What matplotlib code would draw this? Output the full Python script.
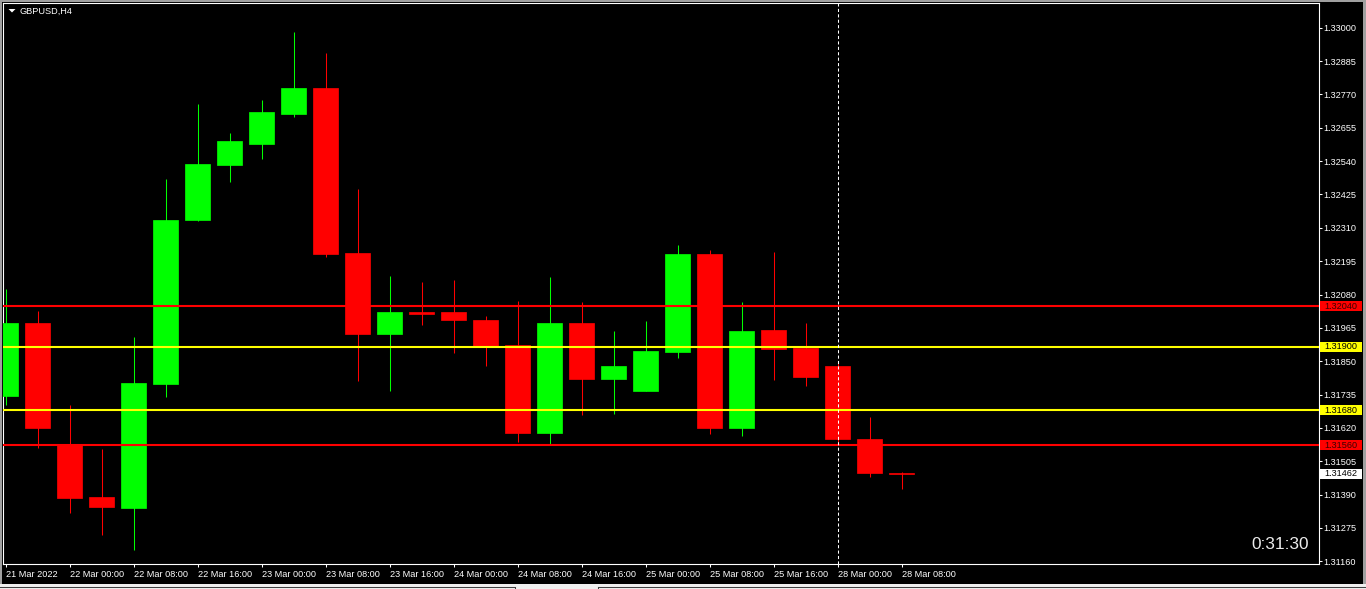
import matplotlib
matplotlib.use('Agg')
import matplotlib.pyplot as plt
from matplotlib.patches import Rectangle, Polygon
from matplotlib.lines import Line2D
from matplotlib.transforms import Affine2D

# ---------------- data ----------------
symbol = "GBPUSD,H4"
timer_text = "0:31:30"

opens = [1.31730, 1.31981, 1.31560, 1.31381, 1.31344, 1.31771, 1.32337, 1.32527,
         1.32600, 1.32703, 1.32794, 1.32222, 1.31944, 1.32019, 1.32019, 1.31991,
         1.31905, 1.31603, 1.31981, 1.31789, 1.31746, 1.31881, 1.32218, 1.31619,
         1.31959, 1.31894, 1.31835, 1.31580, 1.31466]
highs = [1.32098, 1.32022, 1.31698, 1.31546, 1.31935, 1.32477, 1.32736, 1.32636,
         1.32750, 1.32985, 1.32912, 1.32443, 1.32143, 1.32122, 1.32129, 1.32006,
         1.32057, 1.32140, 1.32053, 1.31953, 1.31988, 1.32250, 1.32232, 1.32053,
         1.32225, 1.31980, 1.31842, 1.31659, 1.31469]
lows = [1.31699, 1.31549, 1.31326, 1.31251, 1.31199, 1.31726, 1.32333, 1.32469,
        1.32547, 1.32692, 1.32210, 1.31782, 1.31748, 1.31975, 1.31877, 1.31832,
        1.31571, 1.31562, 1.31665, 1.31668, 1.31746, 1.31860, 1.31598, 1.31591,
        1.31784, 1.31764, 1.31561, 1.31450, 1.31408]
closes = [1.31981, 1.31618, 1.31378, 1.31347, 1.31774, 1.32336, 1.32530, 1.32609,
          1.32709, 1.32794, 1.32221, 1.31944, 1.32019, 1.32013, 1.31991, 1.31902,
          1.31603, 1.31981, 1.31789, 1.31832, 1.31884, 1.32218, 1.31619, 1.31953,
          1.31892, 1.31795, 1.31581, 1.31463, 1.31462]

time_tick_bars = [0, 2, 4, 6, 8, 10, 12, 14, 16, 18, 20, 22, 24, 26, 28]
time_labels = ["21 Mar 2022", "22 Mar 00:00", "22 Mar 08:00", "22 Mar 16:00",
               "23 Mar 00:00", "23 Mar 08:00", "23 Mar 16:00", "24 Mar 00:00",
               "24 Mar 08:00", "24 Mar 16:00", "25 Mar 00:00", "25 Mar 08:00",
               "25 Mar 16:00", "28 Mar 00:00", "28 Mar 08:00"]

price_ticks = [1.31160, 1.31275, 1.31390, 1.31505, 1.31620, 1.31735, 1.31850,
               1.31965, 1.32080, 1.32195, 1.32310, 1.32425, 1.32540, 1.32655,
               1.32770, 1.32885, 1.33000]

levels = [1.32040, 1.31900, 1.31680, 1.31560]
level_colors = ["#ff0000", "#ffff00", "#ffff00", "#ff0000"]
level_text_colors = ["#3a0000", "#000000", "#000000", "#3a0000"]
current_price = 1.31462
vline_bar = 26

# ---------------- layout ----------------
W, H = 1366, 589
fig = plt.figure(figsize=(W / 100, H / 100), dpi=100, facecolor="black")
L, R, T, B = 3.0, 1318.5, 3.0, 564.0
ax = fig.add_axes([L / W, 1 - B / H, (R - L) / W, (B - T) / H])
ax.set_facecolor("black")

bar_px = 32.0
x0_px = 5.5
y_top = 1.330855
y_bot = 1.311504
ax.set_xlim((L - x0_px) / bar_px, (R - x0_px) / bar_px)
ax.set_ylim(y_bot, y_top)

FONT = "Liberation Sans"
FS = 6.6

pix = Affine2D().scale(1.0 / W, -1.0 / H).translate(0, 1) + fig.transFigure


def ypix(p):
    return T + (y_top - p) / (y_top - y_bot) * (B - T)


# ---------------- candles ----------------
n = len(opens)
xs = list(range(n))
bull, bear = "#00ff00", "#ff0000"
cols = [bull if c >= o else bear for o, c in zip(opens, closes)]
ax.vlines(xs, lows, highs, colors=cols, linewidth=0.75, zorder=2)
body_bottom = [min(o, c) for o, c in zip(opens, closes)]
body_h = [abs(c - o) for o, c in zip(opens, closes)]
ax.bar(xs, body_h, bottom=body_bottom, width=25 / bar_px, color=cols,
       edgecolor=cols, linewidth=0.5, zorder=3)

# level lines
for lv, lc in zip(levels, level_colors):
    ax.axhline(lv, color=lc, linewidth=1.5, zorder=4)

# vertical dashed line
ax.axvline(vline_bar, color="white", linewidth=0.75, linestyle=(0, (3, 2.2)),
           zorder=5)

# ---------------- axes styling ----------------
for s in ax.spines.values():
    s.set_color("white")
    s.set_linewidth(0.8)

ax.yaxis.tick_right()
ax.set_yticks(price_ticks)
ax.set_yticklabels([f"{p:.5f}" for p in price_ticks], fontfamily=FONT)
ax.tick_params(axis="y", colors="white", labelcolor="white", length=2.3,
               width=0.75, pad=1.5, labelsize=FS, direction="out")

ax.set_xticks(time_tick_bars)
ax.set_xticklabels(time_labels, fontfamily=FONT, ha="left")
ax.tick_params(axis="x", colors="white", labelcolor="white", length=2.5,
               width=0.75, pad=2.0, labelsize=FS, direction="out")

# ---------------- price labels on the right ----------------
def price_box(p, fc, tc):
    yc = ypix(p)
    fig.patches.append(Rectangle((1319.5, yc - 5.0), 42.5, 10.0, transform=pix,
                                 facecolor=fc, edgecolor="none", zorder=10))
    fig.text(1340.8, yc + 0.3, f"{p:.5f}", transform=pix, ha="center",
             va="center", fontsize=FS, color=tc, fontfamily=FONT, zorder=11)


for lv, lc, tc in zip(levels, level_colors, level_text_colors):
    price_box(lv, lc, tc)
price_box(current_price, "#ffffff", "#000000")

# ---------------- title & timer ----------------
fig.patches.append(Polygon([(8.5, 9.0), (15.5, 9.0), (12.0, 12.5)], closed=True,
                           transform=pix, facecolor="white", edgecolor="none"))
fig.text(20, 11, symbol, transform=pix, ha="left", va="center", fontsize=FS,
         color="white", fontfamily=FONT)
fig.text(1308.5, 544.5, timer_text, transform=pix, ha="right", va="center",
         fontsize=12.4, color="#ececec", fontfamily=FONT)

# ---------------- window chrome ----------------
chrome = "#a0a0a0"
fig.patches.append(Rectangle((0, 0), 2.2, H, transform=pix, facecolor=chrome,
                             edgecolor="none"))
fig.patches.append(Rectangle((0, 0), W, 2.2, transform=pix, facecolor=chrome,
                             edgecolor="none"))
fig.patches.append(Rectangle((1363, 0), 3, H, transform=pix, facecolor=chrome,
                             edgecolor="none"))
fig.patches.append(Rectangle((0, 583.5), W, 6, transform=pix, facecolor="#f0f0f0",
                             edgecolor="none"))
fig.lines.append(Line2D([0, 514], [586.5, 586.5], transform=pix, color="#404040",
                        linewidth=0.75))
fig.lines.append(Line2D([598, W], [586.5, 586.5], transform=pix, color="#404040",
                        linewidth=0.75))
fig.lines.append(Line2D([514.5, 514.5], [586.5, 589], transform=pix,
                        color="#404040", linewidth=0.75))
fig.lines.append(Line2D([597.5, 597.5], [586.5, 589], transform=pix,
                        color="#404040", linewidth=0.75))

fig.savefig("out.png", dpi=100, facecolor="black")
